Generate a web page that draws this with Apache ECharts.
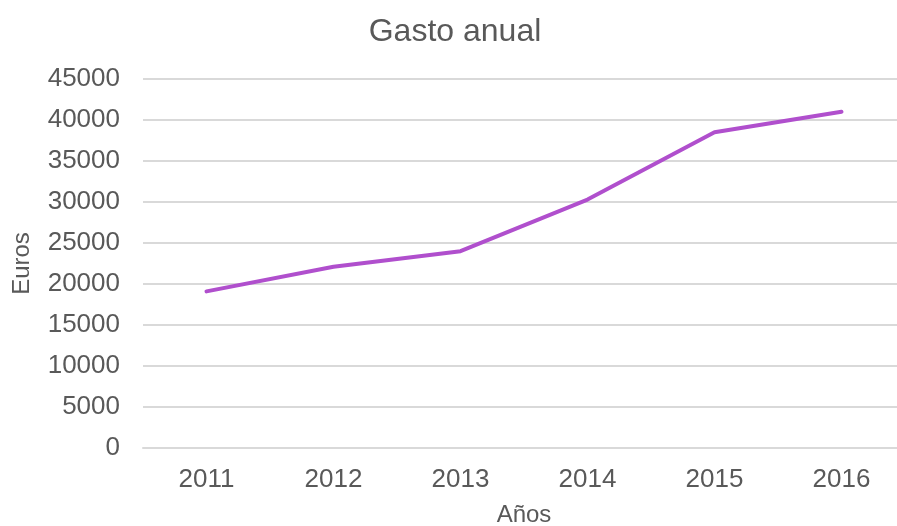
<!DOCTYPE html>
<html>
<head>
<meta charset="utf-8">
<script src="https://cdn.jsdelivr.net/npm/echarts@6/dist/echarts.min.js"></script>
<style>
  html, body { margin: 0; padding: 0; background: #ffffff; }
  #chart { width: 897px; height: 526px; }
</style>
</head>
<body>
<div id="chart"></div>
<script>
// Annual spending per year
const years = ['2011', '2012', '2013', '2014', '2015', '2016'];
const gasto = [19100, 22100, 24000, 30300, 38500, 41000];

const textColor = '#595959';
const font = '"Liberation Sans", Arial, Helvetica, sans-serif';

const chart = echarts.init(document.getElementById('chart'), null, { renderer: 'canvas' });
chart.setOption({
  backgroundColor: '#ffffff',
  animation: false,
  title: {
    text: 'Gasto anual',
    left: 450,
    textAlign: 'center',
    top: 11,
    textStyle: { color: textColor, fontSize: 32, fontWeight: 'normal', fontFamily: font }
  },
  grid: {
    left: 143, right: -8, top: 79, bottom: 78,
    containLabel: false,
    outerBoundsMode: 'none'
  },
  xAxis: {
    type: 'category',
    data: years,
    boundaryGap: true,
    name: 'Años',
    nameLocation: 'middle',
    nameGap: 55,
    nameTextStyle: { color: textColor, fontSize: 24, fontFamily: font },
    axisLine: { show: true, lineStyle: { color: '#d9d9d9', width: 2 } },
    axisTick: { show: false },
    axisLabel: { color: textColor, fontSize: 26, fontFamily: font, margin: 19 }
  },
  yAxis: {
    type: 'value',
    min: 0,
    max: 45000,
    interval: 5000,
    name: 'Euros',
    nameLocation: 'middle',
    nameGap: 109,
    nameRotate: 90,
    nameTextStyle: { color: textColor, fontSize: 24, fontFamily: font },
    axisLine: { show: false },
    axisTick: { show: false },
    axisLabel: {
      color: textColor, fontSize: 26, fontFamily: font, margin: 23,
      formatter: function (v) { return String(v); }
    },
    splitLine: { show: true, lineStyle: { color: '#d9d9d9', width: 2 } }
  },
  series: [{
    type: 'line',
    data: gasto,
    showSymbol: false,
    symbol: 'none',
    lineStyle: { color: '#b04fcd', width: 4, cap: 'round', join: 'round' },
    itemStyle: { color: '#b04fcd' }
  }]
});
</script>
</body>
</html>
